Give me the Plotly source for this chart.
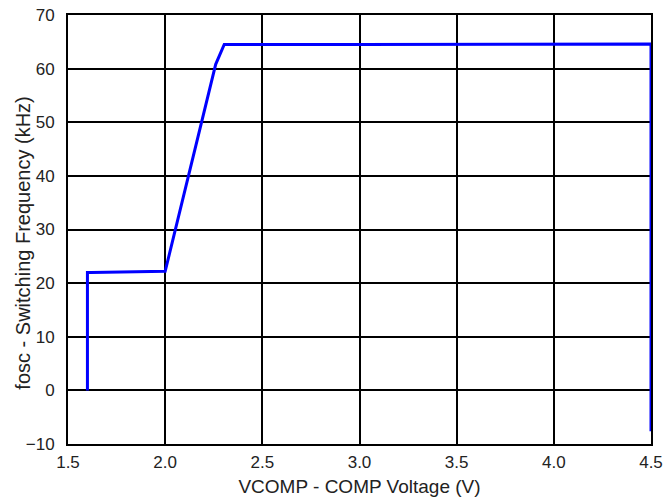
import plotly.graph_objects as go

vcomp = [1.6, 1.6, 1.62, 2.0, 2.26, 2.304, 3.0, 4.0, 4.5, 4.5]
fosc = [0.0, 22.0, 22.0, 22.2, 60.8, 64.5, 64.5, 64.6, 64.6, -7.6]

x_ticks = [1.5, 2.0, 2.5, 3.0, 3.5, 4.0, 4.5]
x_labels = ["1.5", "2.0", "2.5", "3.0", "3.5", "4.0", "4.5"]
y_ticks = [-10, 0, 10, 20, 30, 40, 50, 60, 70]

fig = go.Figure()
fig.add_trace(go.Scatter(x=vcomp, y=fosc, mode="lines",
                         line=dict(color="#0000ff", width=3), showlegend=False))

fig.update_layout(
    width=664, height=504,
    margin=dict(l=68, r=13, t=15, b=60, autoexpand=False),
    paper_bgcolor="white", plot_bgcolor="white",
    font=dict(family="Liberation Sans, Arial, sans-serif", size=17, color="#222"),
)
fig.update_xaxes(range=[1.5, 4.5], tickvals=x_ticks, ticktext=x_labels,
                 showgrid=True, gridcolor="black", gridwidth=1.5,
                 showline=True, linecolor="black", linewidth=2, mirror=True,
                 zeroline=False, ticks="", ticklabelstandoff=2, automargin=False,
                 title=dict(text="VCOMP - COMP Voltage (V)", font=dict(size=19), standoff=8))
fig.update_yaxes(range=[-10, 70], tickvals=y_ticks,
                 showgrid=True, gridcolor="black", gridwidth=1.5,
                 showline=True, linecolor="black", linewidth=2, mirror=True,
                 zeroline=False, ticks="", ticklabelstandoff=8, automargin=False)
fig.add_annotation(text="fosc - Switching Frequency (kHz)", textangle=-90,
                   xref="paper", yref="paper", x=0, y=0.467,
                   xanchor="center", yanchor="middle", xshift=-45,
                   showarrow=False, font=dict(size=20))

fig.write_html("out.html", config={"displayModeBar": False},
               post_script="document.body.style.margin='0';document.body.style.padding='0';document.documentElement.style.overflow='hidden';")
